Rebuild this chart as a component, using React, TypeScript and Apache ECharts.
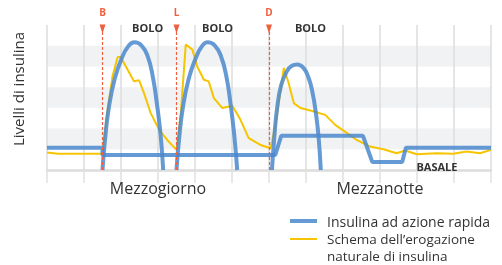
import React, { useEffect, useRef } from "react";
import * as echarts from "echarts";

// x: 0..12 (each unit = 2 hours, 0 = 6:00), y: insulin level 0..7
const xTickLabels: Record<number, string> = { 3: "Mezzogiorno", 9: "Mezzanotte" };

const basalData: number[][] = [
  [0, 1.07], [1.5, 1.07], [1.5, 0.73], [6.17, 0.73], [6.33, 1.65],
  [8.54, 1.65], [8.79, 0.39], [9.6, 0.39], [9.7, 1.07], [12, 1.07],
];

const bolus1: number[][] = [
  [1.5, 0], [1.57, 1.5], [1.67, 3.0], [1.83, 4.4], [2.02, 5.4], [2.2, 5.98], [2.36, 6.17],
  [2.55, 6.02], [2.72, 5.5], [2.86, 4.5], [2.97, 3.2], [3.07, 1.7], [3.14, 0],
];
const bolus2: number[][] = [
  [3.5, 0], [3.57, 1.5], [3.67, 3.0], [3.83, 4.4], [4.02, 5.4], [4.19, 5.98], [4.34, 6.17],
  [4.53, 6.02], [4.7, 5.5], [4.85, 4.5], [4.96, 3.2], [5.06, 1.7], [5.14, 0],
];
const bolus3: number[][] = [
  [6.08, 0], [6.14, 1.5], [6.22, 3.0], [6.33, 4.1], [6.48, 4.75], [6.62, 5.03], [6.76, 5.09],
  [6.92, 4.95], [7.06, 4.5], [7.18, 3.7], [7.27, 2.7], [7.34, 1.6], [7.4, 0],
];

const naturalData: number[][] = [
  [0, 0.84], [0.29, 0.78], [1.01, 0.78], [1.5, 0.78], [1.64, 2.91], [1.77, 4.52],
  [1.91, 5.46], [1.99, 5.46], [2.18, 4.84], [2.35, 4.28], [2.49, 4.33], [2.62, 3.72],
  [2.8, 2.76], [3.03, 1.94], [3.25, 1.45], [3.5, 0.97], [3.61, 2.58], [3.75, 6.06],
  [3.93, 5.81], [4.06, 5.0], [4.24, 4.36], [4.37, 4.28], [4.51, 3.47], [4.74, 2.99],
  [5.01, 3.1], [5.23, 2.42], [5.45, 1.54], [5.77, 1.21], [6.04, 1.05], [6.17, 2.1],
  [6.4, 4.93], [6.53, 4.2], [6.67, 3.23], [6.85, 2.99], [7.12, 2.87], [7.52, 2.66],
  [7.79, 2.18], [8.11, 1.78], [8.37, 1.45], [8.73, 1.13], [9.09, 1.0], [9.45, 0.81],
  [9.68, 0.94], [9.99, 0.76], [10.53, 0.81], [10.98, 0.78], [11.34, 0.89], [11.7, 0.81],
  [12, 0.97],
];

const mealTimes = [1.5, 3.5, 6];
const mealLabels = ["B", "L", "D"];
const boloLabelPos: number[][] = [[2.72, 6.88], [4.61, 6.88], [7.12, 6.88]];
const basalLabelPos: number[] = [10.54, 0.19];

const legendNames = ["Insulina ad azione rapida", "Schema dell’erogazione\nnaturale di insulina"];

const BLUE = "#4a88cc";
const YELLOW = "#f6c500";
const RED = "#f0603f";
const FONT = "'Open Sans', sans-serif";

export default function App() {
  const ref = useRef<HTMLDivElement>(null);

  useEffect(() => {
    if (!ref.current) return;
    const chart = echarts.init(ref.current, null, { renderer: "svg" });

    const blueLine = (data: number[][], smooth: number | boolean) => ({
      type: "line",
      name: legendNames[0],
      data,
      smooth,
      showSymbol: false,
      symbol: "none",
      lineStyle: { color: BLUE, width: 4, opacity: 0.85 },
      z: 3,
    });

    chart.setOption({
      animation: false,
      textStyle: { fontFamily: FONT },
      grid: { left: 47, right: 11, top: 25, bottom: 95 },
      xAxis: {
        type: "value",
        min: 0,
        max: 12,
        interval: 1,
        axisLine: { show: true, lineStyle: { color: "#dcdcdc", width: 2.5 } },
        axisTick: { show: true, length: 13, lineStyle: { color: "#e0e0e0", width: 1.5 } },
        splitLine: { show: true, lineStyle: { color: "#dcdcdc", width: 1.5 } },
        axisLabel: {
          show: true,
          margin: 10,
          fontSize: 16,
          color: "#333",
          fontFamily: FONT,
          formatter: (v: number) => xTickLabels[v] || "",
        },
      },
      yAxis: {
        type: "value",
        min: 0,
        max: 7,
        interval: 1,
        axisLine: { show: false },
        axisTick: { show: false },
        axisLabel: { show: false },
        splitLine: { show: false },
        splitArea: { show: true, areaStyle: { color: ["rgba(255,255,255,0)", "#f1f2f4"] } },
      },
      graphic: [
        {
          type: "text",
          x: 18,
          y: 89,
          rotation: Math.PI / 2,
          style: {
            text: "Livelli di insulina",
            fontSize: 15,
            fontFamily: FONT,
            fill: "#333",
            align: "center",
            verticalAlign: "middle",
          },
        },
        { type: "line", shape: { x1: 290, y1: 221, x2: 317, y2: 221 }, style: { stroke: BLUE, lineWidth: 4, opacity: 0.85 } },
        {
          type: "text", x: 327, y: 221,
          style: { text: legendNames[0], fontSize: 14, fontFamily: FONT, fill: "#333", verticalAlign: "middle" },
        },
        { type: "line", shape: { x1: 290, y1: 239, x2: 317, y2: 239 }, style: { stroke: YELLOW, lineWidth: 2 } },
        {
          type: "text", x: 327, y: 230.5,
          style: { text: legendNames[1], fontSize: 13.5, lineHeight: 17, fontFamily: FONT, fill: "#333", verticalAlign: "top" },
        },
      ],
      series: [
        {
          type: "line",
          name: legendNames[1],
          data: naturalData,
          showSymbol: false,
          symbol: "none",
          lineStyle: { color: YELLOW, width: 2 },
          z: 2,
        },
        blueLine(basalData, false),
        blueLine(bolus1, 0.5),
        blueLine(bolus2, 0.5),
        blueLine(bolus3, 0.5),
        {
          type: "line",
          data: [],
          z: 5,
          markLine: {
            silent: true,
            symbol: ["none", "none"],
            label: { show: false },
            lineStyle: { color: RED, type: [3, 2], width: 1.2 },
            data: mealTimes.map((t) => ({ xAxis: t })),
          },
          markPoint: {
            silent: true,
            data: [
              ...mealTimes.map((t, i) => ({
                coord: [t, 7],
                name: mealLabels[i],
                symbol: "triangle",
                symbolRotate: 180,
                symbolSize: [6, 9],
                symbolOffset: [0, 4],
                itemStyle: { color: RED },
                label: {
                  show: true,
                  position: "top",
                  distance: 8,
                  formatter: "{b}",
                  color: RED,
                  fontSize: 10,
                  fontWeight: "bold",
                  fontFamily: FONT,
                },
              })),
              ...boloLabelPos.map((p) => ({
                coord: p,
                name: "BOLO",
                symbol: "rect",
                symbolSize: 1,
                itemStyle: { color: "transparent" },
                label: {
                  show: true, position: "inside", formatter: "{b}", color: "#333",
                  fontSize: 11, fontWeight: "bold", fontFamily: FONT,
                },
              })),
              {
                coord: basalLabelPos,
                name: "BASALE",
                symbol: "rect",
                symbolSize: 1,
                itemStyle: { color: "transparent" },
                label: {
                  show: true, position: "inside", formatter: "{b}", color: "#333",
                  fontSize: 11, fontWeight: "bold", fontFamily: FONT,
                },
              },
            ],
          },
        },
      ],
    });

    return () => chart.dispose();
  }, []);

  return <div ref={ref} style={{ position: "fixed", left: 0, top: 0, width: 502, height: 265 }} />;
}
